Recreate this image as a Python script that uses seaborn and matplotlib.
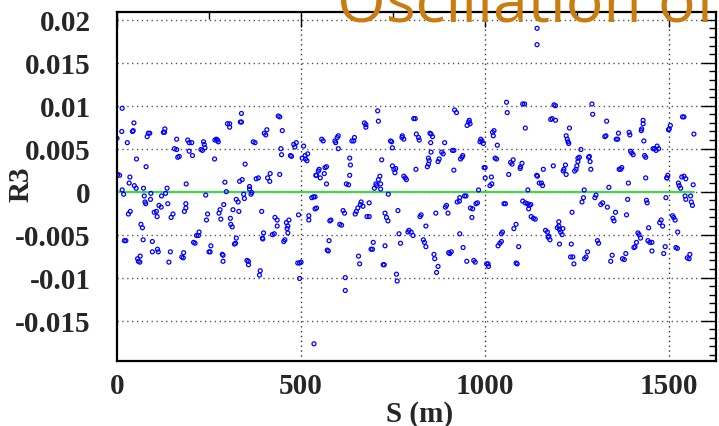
import matplotlib
matplotlib.use("Agg")
import matplotlib.pyplot as plt
import seaborn as sns
import pandas as pd
from matplotlib.ticker import MultipleLocator, FixedLocator

# ---------------- data ----------------
s_a = [14, 46, 13, 42, 44, 85, 89, 82, 126, 130, 129, 0, 28, 162, 192, 196, 203, 235, 237, 228,
       232, 239, 266, 156, 162, 196, 169, 165, 205, 265, 53, 79, 2, 7, 35, 33, 47, 52, 72, 136,
       188, 14, 18, 92, 132, 74, 76, 78, 91, 121, 241, 187, 114, 120, 138, 187, 183, 101, 107, 109,
       147, 152, 36, 31, 246, 243, 65, 69, 223, 216, 221, 24, 20, 71, 96, 208, 212, 255, 110, 112,
       96, 145, 181, 250, 253, 63, 56, 58, 62, 176, 180, 141]
r3_a = [0.0097, 0.0080, 0.0070, 0.0070, 0.0071, 0.0068, 0.0068, 0.0064, 0.0069, 0.0073, 0.0069,
        0.0062, 0.0057, 0.0061, 0.0060, 0.0057, 0.0057, 0.0058, 0.0055, 0.0049, 0.0048, 0.0051,
        0.0060, 0.0050, 0.0049, 0.0047, 0.0041, 0.0040, 0.0042, 0.0038, 0.0038, 0.0029, 0.0020,
        0.0019, 0.0017, 0.0010, 0.0007, 0.0004, 0.0004, 0.0004, 0.0009, 0.0002, -0.0003, -0.0002,
        -0.0002, -0.0005, -0.0012, -0.0014, -0.0009, -0.0005, -0.0004, -0.0014, -0.0016, -0.0018,
        -0.0014, -0.0019, -0.0023, -0.0024, -0.0023, -0.0029, -0.0030, -0.0026, -0.0023, -0.0026,
        -0.0026, -0.0033, -0.0038, -0.0042, -0.0047, -0.0051, -0.0051, -0.0057, -0.0057, -0.0056,
        -0.0058, -0.0059, -0.0060, -0.0063, -0.0067, -0.0070, -0.0070, -0.0070, -0.0071, -0.0070,
        -0.0070, -0.0075, -0.0078, -0.0081, -0.0082, -0.0076, -0.0077, -0.0082]

s_b = [338, 338, 335, 438, 442, 300, 306, 306, 270, 273, 275, 370, 375, 400, 404, 407, 449, 471,
       474, 445, 447, 480, 483, 487, 507, 503, 511, 516, 518, 512, 348, 442, 416, 293, 333, 340,
       378, 384, 409, 415, 540, 297, 360, 360, 364, 366, 344, 346, 324, 329, 331, 315, 290, 280,
       277, 282, 308, 309, 313, 393, 429, 435, 435, 460, 464, 467, 462, 493, 521, 521, 529, 534,
       538, 398, 422, 427, 395, 396, 453, 456, 464, 319, 322, 324, 286, 288, 288, 353, 357, 357,
       389, 387, 491, 496, 500, 496]
r3_b = [0.0091, 0.0081, 0.0081, 0.0088, 0.0087, 0.0079, 0.0079, 0.0075, 0.0061, 0.0060, 0.0058,
        0.0058, 0.0057, 0.0068, 0.0066, 0.0072, 0.0071, 0.0042, 0.0041, 0.0050, 0.0043, 0.0055,
        0.0052, 0.0057, 0.0053, 0.0039, 0.0042, 0.0036, 0.0044, 0.0038, 0.0032, 0.0020, 0.0021,
        0.0011, 0.0012, 0.0014, 0.0015, 0.0016, 0.0016, 0.0012, 0.0019, 0.0000, 0.0006, 0.0003,
        -0.0003, -0.0001, -0.0003, -0.0008, -0.0009, -0.0012, -0.0023, -0.0021, -0.0015, -0.0021,
        -0.0025, -0.0032, -0.0031, -0.0038, -0.0041, -0.0023, -0.0030, -0.0033, -0.0040, -0.0036,
        -0.0040, -0.0033, -0.0043, -0.0027, -0.0028, -0.0033, -0.0007, -0.0006, -0.0020, -0.0048,
        -0.0050, -0.0049, -0.0054, -0.0055, -0.0058, -0.0056, -0.0048, -0.0061, -0.0060, -0.0054,
        -0.0073, -0.0074, -0.0081, -0.0080, -0.0081, -0.0085, -0.0092, -0.0097, -0.0083, -0.0083,
        -0.0082, -0.0101]

s_c = [708, 710, 672, 676, 676, 810, 806, 556, 560, 592, 598, 601, 594, 638, 643, 645, 601, 743,
       746, 775, 779, 774, 748, 813, 632, 634, 719, 549, 547, 542, 552, 565, 569, 563, 632, 623,
       629, 569, 703, 699, 705, 710, 714, 716, 716, 748, 752, 755, 757, 779, 783, 786, 812, 737,
       538, 663, 661, 668, 685, 654, 650, 647, 614, 618, 542, 581, 578, 605, 610, 679, 685, 728,
       732, 736, 763, 793, 799, 804, 790, 766, 576, 571, 574, 696, 690, 694, 728, 770, 656, 659,
       723, 726, 759, 761, 620, 620, 535]
r3_c = [0.0094, 0.0082, 0.0080, 0.0078, 0.0075, 0.0085, 0.0085, 0.0061, 0.0059, 0.0059, 0.0063,
        0.0065, 0.0057, 0.0059, 0.0059, 0.0063, 0.0050, 0.0059, 0.0058, 0.0065, 0.0061, 0.0063,
        0.0051, 0.0067, 0.0039, 0.0031, 0.0037, 0.0026, 0.0024, 0.0019, 0.0016, 0.0028, 0.0029,
        0.0021, 0.0019, 0.0009, 0.0008, 0.0009, 0.0009, 0.0004, 0.0007, 0.0014, 0.0018, 0.0003,
        0.0009, 0.0030, 0.0026, 0.0022, 0.0027, 0.0018, 0.0016, 0.0014, 0.0026, -0.0003, -0.0006,
        -0.0012, -0.0015, -0.0017, -0.0013, -0.0019, -0.0023, -0.0026, -0.0022, -0.0025, -0.0019,
        -0.0033, -0.0034, -0.0038, -0.0039, -0.0029, -0.0029, -0.0025, -0.0030, -0.0034, -0.0022,
        -0.0045, -0.0047, -0.0051, -0.0047, -0.0049, -0.0057, -0.0068, -0.0069, -0.0059, -0.0067,
        -0.0067, -0.0063, -0.0060, -0.0075, -0.0084, -0.0085, -0.0085, -0.0096, -0.0104, -0.0100,
        -0.0115, -0.0177]

s_d = [1058, 1060, 917, 922, 957, 955, 951, 959, 819, 821, 850, 853, 857, 890, 852, 988, 986, 991,
       995, 1020, 1024, 1022, 1033, 853, 882, 886, 911, 915, 939, 937, 933, 1027, 1031, 1069, 1073,
       1076, 875, 872, 846, 848, 843, 846, 915, 997, 1000, 1017, 1000, 1064, 1013, 1018, 982, 931,
       930, 924, 944, 948, 979, 975, 960, 966, 895, 892, 964, 866, 899, 823, 826, 839, 1051, 1055,
       1084, 1078, 1047, 1044, 931, 832, 835, 839, 861, 863, 901, 904, 908, 872, 868, 940, 950, 969,
       973, 1004, 1008, 1009, 1035, 1040, 1044, 1084]
r3_d = [0.0104, 0.0092, 0.0095, 0.0092, 0.0083, 0.0081, 0.0077, 0.0079, 0.0063, 0.0060, 0.0068,
        0.0067, 0.0064, 0.0057, 0.0057, 0.0061, 0.0058, 0.0059, 0.0056, 0.0069, 0.0071, 0.0065,
        0.0054, 0.0046, 0.0046, 0.0044, 0.0048, 0.0048, 0.0042, 0.0040, 0.0038, 0.0039, 0.0038,
        0.0034, 0.0032, 0.0037, 0.0038, 0.0035, 0.0039, 0.0036, 0.0029, 0.0032, 0.0025, 0.0028,
        0.0028, 0.0017, 0.0016, 0.0020, 0.0007, 0.0009, 0.0002, -0.0007, -0.0011, -0.0012, -0.0005,
        -0.0005, -0.0013, -0.0014, -0.0019, -0.0020, -0.0016, -0.0018, -0.0030, -0.0025, -0.0025,
        -0.0029, -0.0027, -0.0040, -0.0014, -0.0014, -0.0038, -0.0043, -0.0047, -0.0049, -0.0049,
        -0.0056, -0.0059, -0.0064, -0.0073, -0.0078, -0.0071, -0.0072, -0.0070, -0.0087, -0.0094,
        -0.0065, -0.0081, -0.0080, -0.0082, -0.0084, -0.0084, -0.0087, -0.0063, -0.0060, -0.0058,
        -0.0083]

s_e = [1102, 1107, 1187, 1191, 1290, 1292, 1330, 1182, 1178, 1191, 1109, 1229, 1220, 1223, 1225,
       1227, 1325, 1328, 1356, 1260, 1256, 1252, 1283, 1281, 1285, 1252, 1249, 1247, 1243, 1287,
       1100, 1096, 1095, 1158, 1185, 1218, 1214, 1212, 1220, 1140, 1142, 1147, 1153, 1156, 1116,
       1269, 1336, 1102, 1109, 1115, 1120, 1118, 1124, 1125, 1131, 1136, 1267, 1263, 1298, 1301,
       1314, 1319, 1332, 1236, 1347, 1350, 1354, 1164, 1169, 1173, 1176, 1171, 1200, 1196, 1202,
       1205, 1209, 1200, 1211, 1202, 1234, 1305, 1308, 1091, 1278, 1274, 1270, 1232, 1238, 1241,
       1345, 1341, 1087, 1141, 1141]
r3_e = [0.0102, 0.0102, 0.0101, 0.0100, 0.0102, 0.0090, 0.0082, 0.0085, 0.0084, 0.0083, 0.0074,
        0.0074, 0.0065, 0.0061, 0.0058, 0.0056, 0.0064, 0.0065, 0.0061, 0.0049, 0.0040, 0.0039,
        0.0041, 0.0040, 0.0035, 0.0035, 0.0030, 0.0026, 0.0024, 0.0026, 0.0033, 0.0029, 0.0027,
        0.0026, 0.0030, 0.0031, 0.0026, 0.0024, 0.0020, 0.0019, 0.0018, 0.0010, 0.0010, 0.0007,
        0.0002, 0.0002, 0.0005, -0.0011, -0.0013, -0.0014, -0.0016, -0.0020, -0.0015, -0.0029,
        -0.0031, -0.0032, -0.0007, -0.0012, -0.0007, -0.0004, -0.0015, -0.0013, -0.0018, -0.0024,
        -0.0031, -0.0034, -0.0024, -0.0045, -0.0047, -0.0052, -0.0056, -0.0053, -0.0035, -0.0042,
        -0.0044, -0.0047, -0.0050, -0.0040, -0.0043, -0.0061, -0.0061, -0.0057, -0.0060, -0.0064,
        -0.0070, -0.0076, -0.0078, -0.0076, -0.0076, -0.0084, -0.0074, -0.0081, -0.0084, 0.0190,
        0.0171]

s_f = [1536, 1540, 1429, 1429, 1425, 1424, 1503, 1500, 1498, 1362, 1391, 1393, 1567, 1360, 1431,
       1467, 1471, 1460, 1464, 1456, 1395, 1398, 1402, 1433, 1436, 1364, 1371, 1368, 1389, 1436,
       1496, 1494, 1493, 1534, 1540, 1545, 1525, 1527, 1531, 1565, 1387, 1438, 1440, 1491, 1543,
       1545, 1558, 1560, 1563, 1384, 1478, 1474, 1482, 1509, 1512, 1516, 1444, 1523, 1415, 1418,
       1442, 1447, 1453, 1411, 1407, 1404, 1422, 1489, 1518, 1522, 1382, 1373, 1378, 1453, 1485,
       1556, 1549, 1554]
r3_f = [0.0087, 0.0087, 0.0083, 0.0079, 0.0073, 0.0071, 0.0077, 0.0073, 0.0072, 0.0068, 0.0069,
        0.0066, 0.0067, 0.0061, 0.0059, 0.0053, 0.0050, 0.0050, 0.0048, 0.0050, 0.0047, 0.0045,
        0.0043, 0.0042, 0.0040, 0.0026, 0.0028, 0.0026, 0.0010, 0.0016, 0.0019, 0.0016, 0.0016,
        0.0017, 0.0018, 0.0015, 0.0010, 0.0007, 0.0004, 0.0008, -0.0009, -0.0010, -0.0013, -0.0007,
        -0.0005, -0.0009, -0.0005, -0.0012, -0.0016, -0.0027, -0.0033, -0.0036, -0.0040, -0.0028,
        -0.0030, -0.0033, -0.0042, -0.0047, -0.0048, -0.0050, -0.0057, -0.0059, -0.0059, -0.0059,
        -0.0064, -0.0065, -0.0054, -0.0064, -0.0065, -0.0066, -0.0072, -0.0078, -0.0079, -0.0069,
        -0.0072, -0.0073, -0.0077, -0.0078]

ref_s = [0, 1567]
ref_r3 = [0.0, 0.0]

x_ticks = [0, 500, 1000, 1500]
y_ticks = [-0.015, -0.01, -0.005, 0, 0.005, 0.01, 0.015, 0.02]
y_tick_labels = ["-0.015", "-0.01", "-0.005", "0", "0.005", "0.01", "0.015", "0.02"]
title_text = "Oscillation of"
x_label = "S (m)"
y_label = "R3"

# ---------------- figure ----------------
sns.set_style("white")
plt.rcParams["axes.unicode_minus"] = False
plt.rcParams["font.family"] = ["Liberation Serif", "DejaVu Serif"]

S = s_a + s_b + s_c + s_d + s_e + s_f
R = r3_a + r3_b + r3_c + r3_d + r3_e + r3_f
df = pd.DataFrame({"S": S, "R3": R})
ref = pd.DataFrame({"S": ref_s, "R3": ref_r3})

fig = plt.figure(figsize=(7.19, 4.27), dpi=100)
ax = fig.add_axes([117 / 719, 1 - 362 / 427, (716 - 117) / 719, (362 - 13) / 427])

ax.set_xlim(0, 1627)
ax.set_ylim(-0.0197, 0.0209)

# grid
for xv in x_ticks[1:]:
    ax.axvline(xv, color="#333333", lw=1.0, ls=(0, (1, 2.5)), zorder=0)
for yv in y_ticks:
    ax.axhline(yv, color="#555555", lw=1.0, ls=(0, (1, 2.5)), zorder=0)

sns.lineplot(data=ref, x="S", y="R3", ax=ax, color="#3ddc3d", lw=1.5, zorder=1)
sns.scatterplot(data=df, x="S", y="R3", ax=ax, marker="o", s=8, facecolors="none",
                edgecolor="#0000ff", linewidth=0.9, zorder=2)

ax.xaxis.set_major_locator(FixedLocator(x_ticks))
ax.xaxis.set_minor_locator(MultipleLocator(250))
ax.yaxis.set_major_locator(FixedLocator(y_ticks))
ax.yaxis.set_minor_locator(MultipleLocator(0.001))
ax.set_yticklabels(y_tick_labels)
ax.set_xticklabels([str(v) for v in x_ticks])

ax.tick_params(which="both", direction="in", top=True, right=True, color="black")
ax.tick_params(which="major", length=11, width=1.0)
ax.tick_params(which="minor", length=5, width=1.0)
ax.tick_params(axis="y", which="major", pad=19, labelsize=21)
ax.tick_params(axis="x", which="major", pad=8, labelsize=21)
for lab in ax.get_xticklabels() + ax.get_yticklabels():
    lab.set_fontweight("bold")

for sp in ax.spines.values():
    sp.set_linewidth(1.6)
    sp.set_color("black")

ax.set_xlabel(x_label, fontsize=21, fontweight="bold")
ax.set_ylabel(y_label, fontsize=21, fontweight="bold")
ax.xaxis.set_label_coords(0.505, -0.112)
ax.yaxis.set_label_coords(-0.137, 0.51)

fig.text(337 / 719, 1 - 21 / 427, title_text, fontsize=45, family="Open Sans",
         color="#c97d10", ha="left", va="baseline")

fig.savefig("out.png", dpi=100)
